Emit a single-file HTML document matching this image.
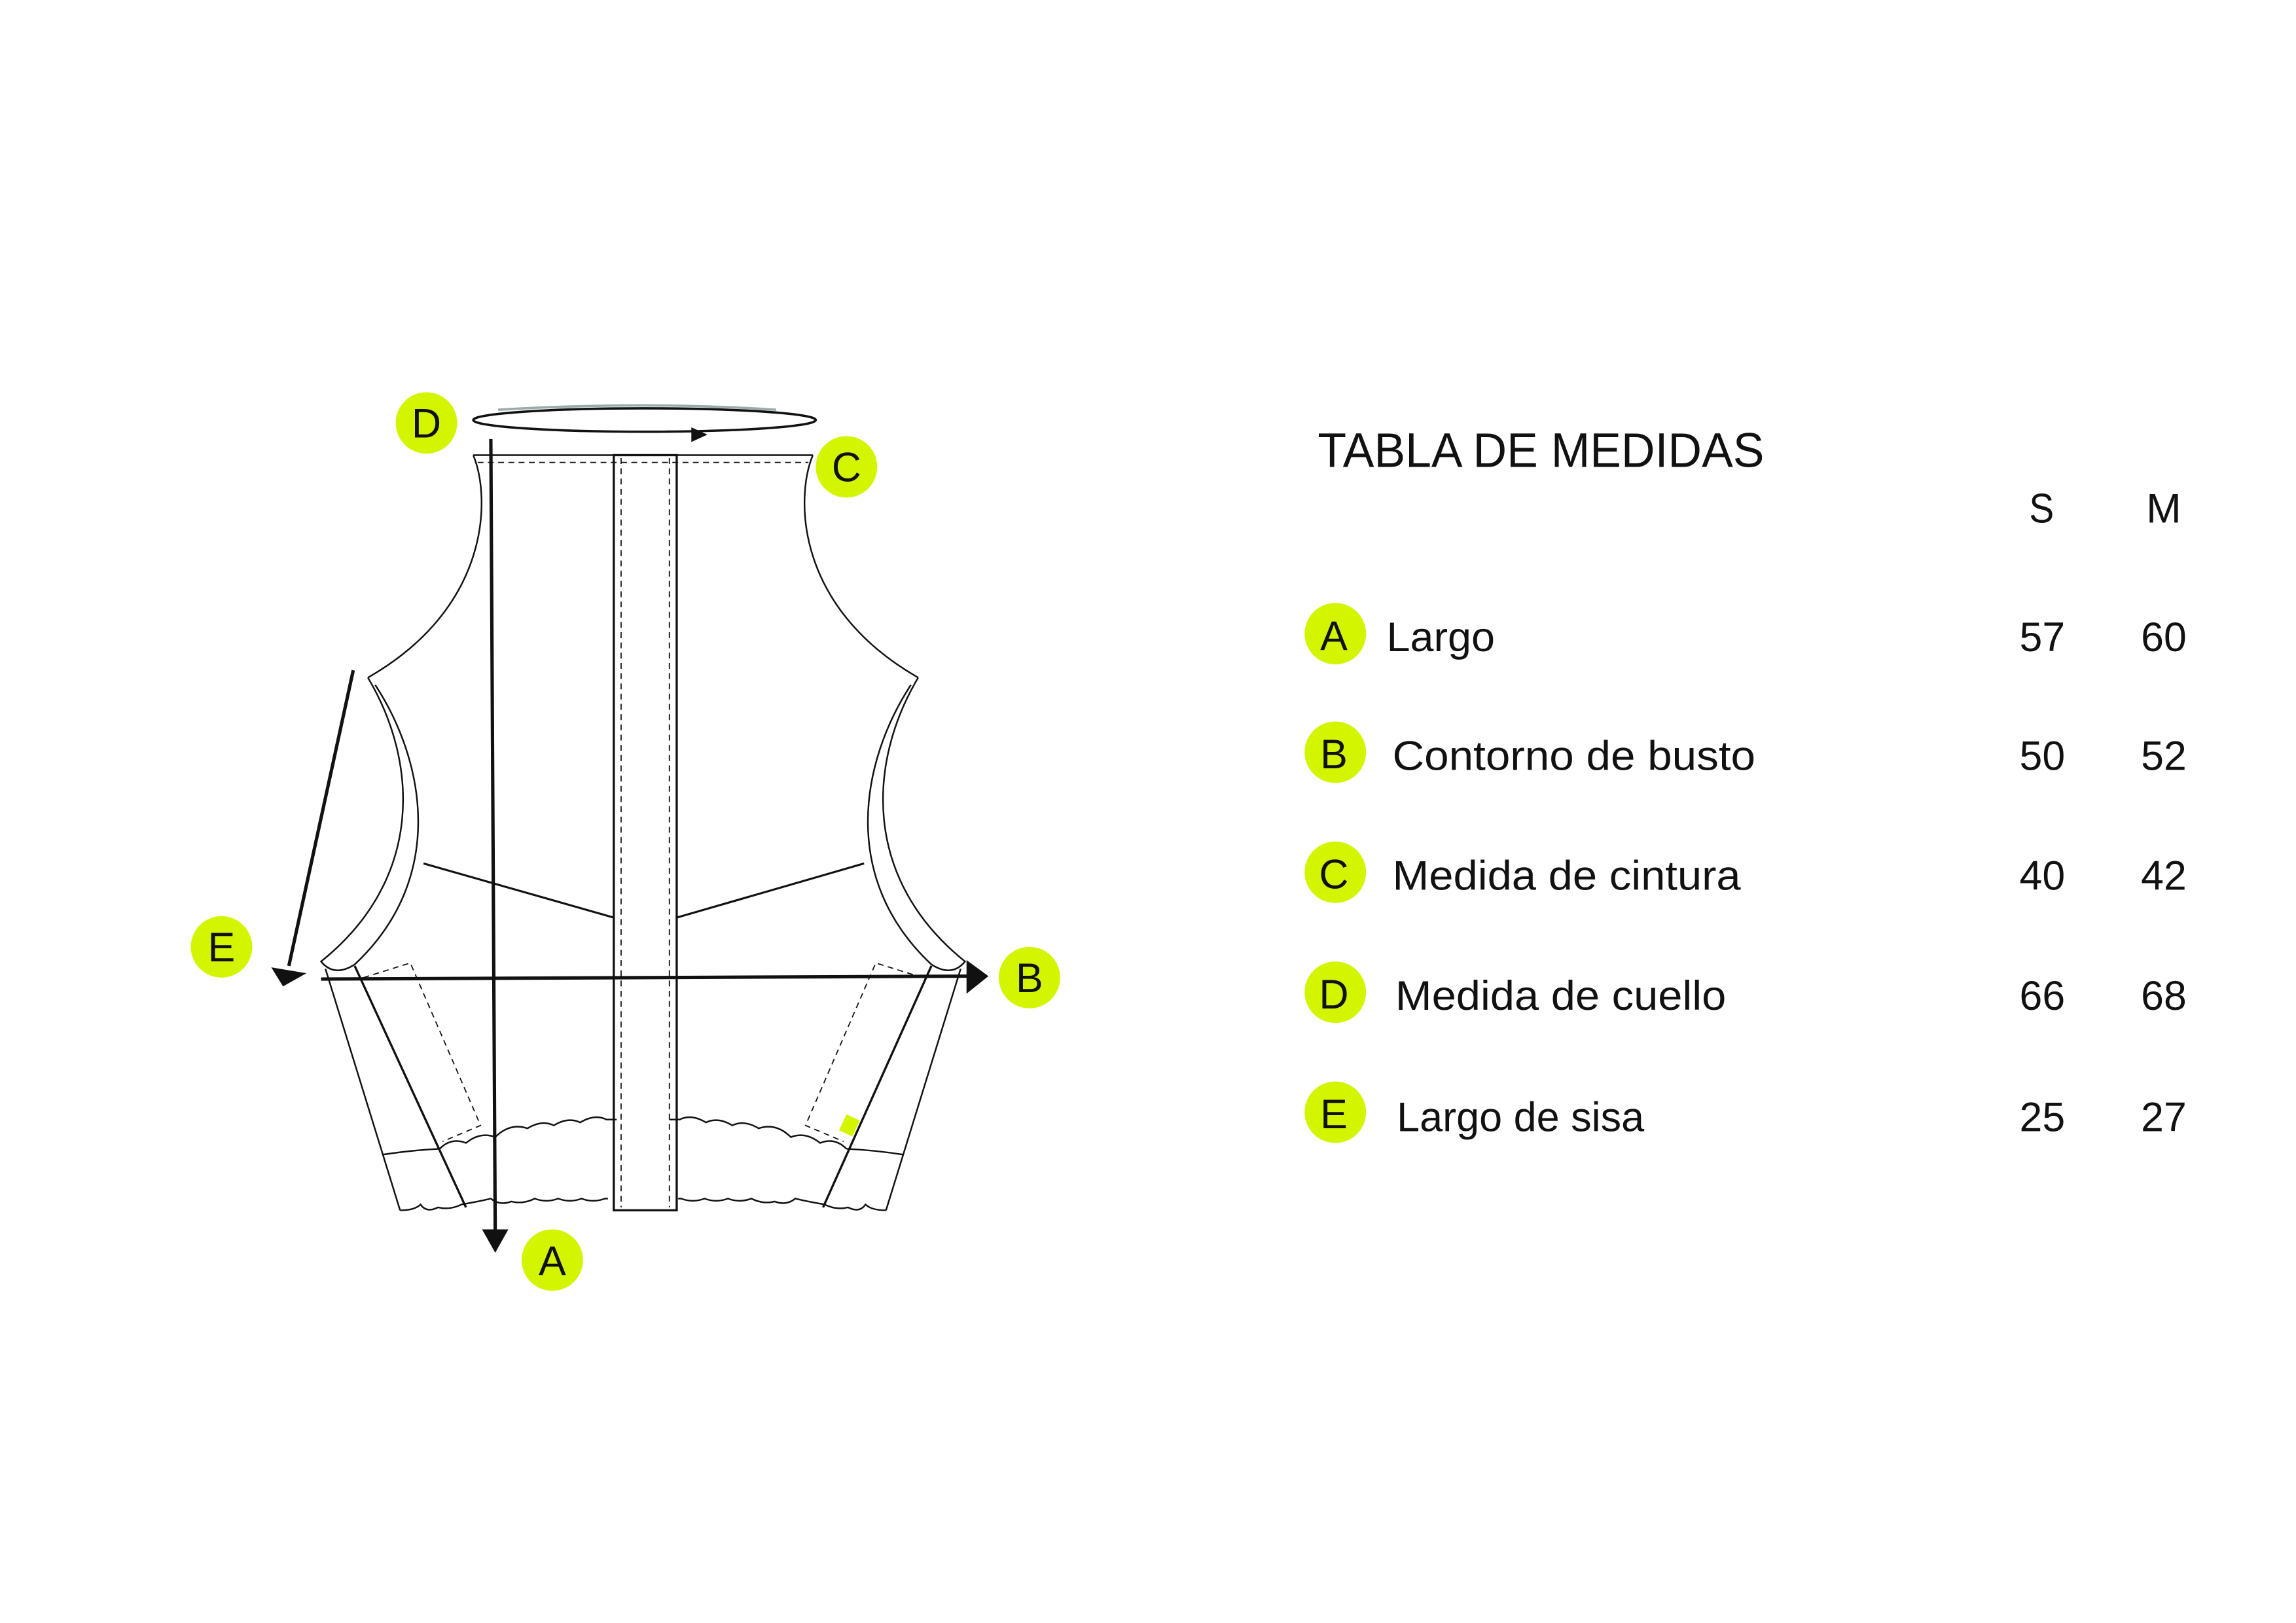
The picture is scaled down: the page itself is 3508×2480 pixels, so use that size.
<!DOCTYPE html>
<html><head><meta charset="utf-8"><style>
html,body{margin:0;padding:0;background:#fff;}
svg{display:block;}
text{font-family:"Liberation Sans",sans-serif;fill:#111;}
</style></head><body>
<svg width="3508" height="2480" viewBox="0 0 1568 1109" xmlns="http://www.w3.org/2000/svg">
<rect width="1568" height="1109" fill="#fff"/>
<g fill="none" stroke="#111" stroke-width="1.1">
  <ellipse cx="440" cy="287" rx="117" ry="8" stroke-width="1.6"/>
  <path d="M340,280 Q440,274 530,280" stroke="#9aa" stroke-width="1.6"/>
  <line x1="323" y1="311" x2="555" y2="311"/>
  <line x1="326" y1="316" x2="552" y2="316" stroke-dasharray="4,3" stroke-width="0.8"/>
  <path d="M323,311 C335,340 335,415 251,463"/>
  <path d="M555,311 C543,340 543,415 627,463"/>
  <path d="M251,463 C285,520 290,600 219,657 Q228,668 242,659 C305,600 290,520 256,468"/>
  <path d="M627,463 C593,520 588,600 659,657 Q650,668 636,659 C573,600 588,520 622,468"/>
  <line x1="289" y1="590" x2="419" y2="627" stroke-width="1.4"/>
  <line x1="462" y1="627" x2="590" y2="590" stroke-width="1.4"/>
  <rect x="419" y="311" width="43" height="516" stroke-width="1.5"/>
  <line x1="424" y1="313" x2="424" y2="825" stroke-dasharray="4,3" stroke-width="0.8"/>
  <line x1="457" y1="313" x2="457" y2="825" stroke-dasharray="4,3" stroke-width="0.8"/>
  <line x1="222" y1="662" x2="273" y2="827"/>
  <line x1="242" y1="660" x2="318" y2="825" stroke-width="1.5"/>
  <line x1="656" y1="662" x2="605" y2="827"/>
  <line x1="636" y1="660" x2="562" y2="825" stroke-width="1.5"/>
  <path d="M248,668 L280,658 L328,769 L302,780" stroke-dasharray="4,3" stroke-width="0.8"/>
  <path d="M630,668 L598,658 L550,769 L576,780" stroke-dasharray="4,3" stroke-width="0.8"/>
  <path d="M261,789 Q280,786 300,785"/>
  <path d="M617,789 Q598,786 578,785"/>
  <path d="M300,785 q8,-8 18,-4 q10,-8 20,-4 q10,-10 22,-6 q10,-6 18,-2 q10,-6 18,-2 q10,-6 18,-2 l7,0"/>
  <path d="M578,785 q-8,-8 -18,-4 q-10,-8 -20,-4 q-10,-10 -22,-6 q-10,-6 -18,-2 q-10,-6 -18,-2 q-10,-6 -18,-2 l-7,0"/>
  <path d="M273,827 q10,0 14,-4 q4,6 12,2 q8,2 16,-2 q12,-2 20,-4 q6,5 14,2 q8,2 16,-2 q8,3 16,0 q8,3 16,0 q8,3 16,0 l2,0"/>
  <path d="M605,827 q-10,0 -14,-4 q-4,6 -12,2 q-8,2 -16,-2 q-12,-2 -20,-4 q-6,5 -14,2 q-8,2 -16,-2 q-8,3 -16,0 q-8,3 -16,0 q-8,3 -16,0 l-2,0"/>
</g>
<rect x="575" y="763" width="10" height="12" fill="#d4f500" transform="rotate(25 580 769)"/>
<g stroke="#111" stroke-width="2.3" fill="none">
  <line x1="335" y1="300" x2="338" y2="842"/>
  <line x1="219" y1="669" x2="662" y2="667"/>
  <line x1="241" y1="458" x2="197" y2="660"/>
</g>
<g fill="#111">
  <polygon points="329,840 347,840 338,856"/>
  <polygon points="660,656 660,679 675,667"/>
  <polygon points="185,661 209,665 193,674"/>
  <polygon points="472,292 472,302 483,297"/>
</g>
<g fill="#d4f500">
  <circle cx="291" cy="289" r="21"/>
  <circle cx="578" cy="319" r="21"/>
  <circle cx="151" cy="647" r="21"/>
  <circle cx="703" cy="668" r="21"/>
  <circle cx="377" cy="861" r="21"/>
  <circle cx="912" cy="433" r="21"/>
  <circle cx="912" cy="514" r="21"/>
  <circle cx="912" cy="596" r="21"/>
  <circle cx="912" cy="678" r="21"/>
  <circle cx="912" cy="760" r="21"/>
</g>
<g font-size="28" text-anchor="middle">
  <text x="291" y="299">D</text>
  <text x="578" y="329">C</text>
  <text x="151" y="657">E</text>
  <text x="703" y="678">B</text>
  <text x="377" y="871">A</text>
  <text x="911" y="444">A</text>
  <text x="911" y="525">B</text>
  <text x="911" y="607">C</text>
  <text x="911" y="689">D</text>
  <text x="911" y="771">E</text>
</g>
<text x="900" y="319" font-size="33" textLength="305" lengthAdjust="spacingAndGlyphs">TABLA DE MEDIDAS</text>
<g font-size="28">
  <text x="1386" y="357" textLength="17" lengthAdjust="spacingAndGlyphs">S</text>
  <text x="1466" y="357" textLength="24" lengthAdjust="spacingAndGlyphs">M</text>
  <text x="947" y="445" textLength="74" lengthAdjust="spacingAndGlyphs">Largo</text>
  <text x="951" y="526" textLength="248" lengthAdjust="spacingAndGlyphs">Contorno de busto</text>
  <text x="951" y="608" textLength="238" lengthAdjust="spacingAndGlyphs">Medida de cintura</text>
  <text x="953" y="690" textLength="226" lengthAdjust="spacingAndGlyphs">Medida de cuello</text>
  <text x="954" y="773" textLength="169" lengthAdjust="spacingAndGlyphs">Largo de sisa</text>
</g>
<g font-size="28" text-anchor="middle">
  <text x="1395" y="445">57</text><text x="1478" y="445">60</text>
  <text x="1395" y="526">50</text><text x="1478" y="526">52</text>
  <text x="1395" y="608">40</text><text x="1478" y="608">42</text>
  <text x="1395" y="690">66</text><text x="1478" y="690">68</text>
  <text x="1395" y="773">25</text><text x="1478" y="773">27</text>
</g>
</svg>
</body></html>
